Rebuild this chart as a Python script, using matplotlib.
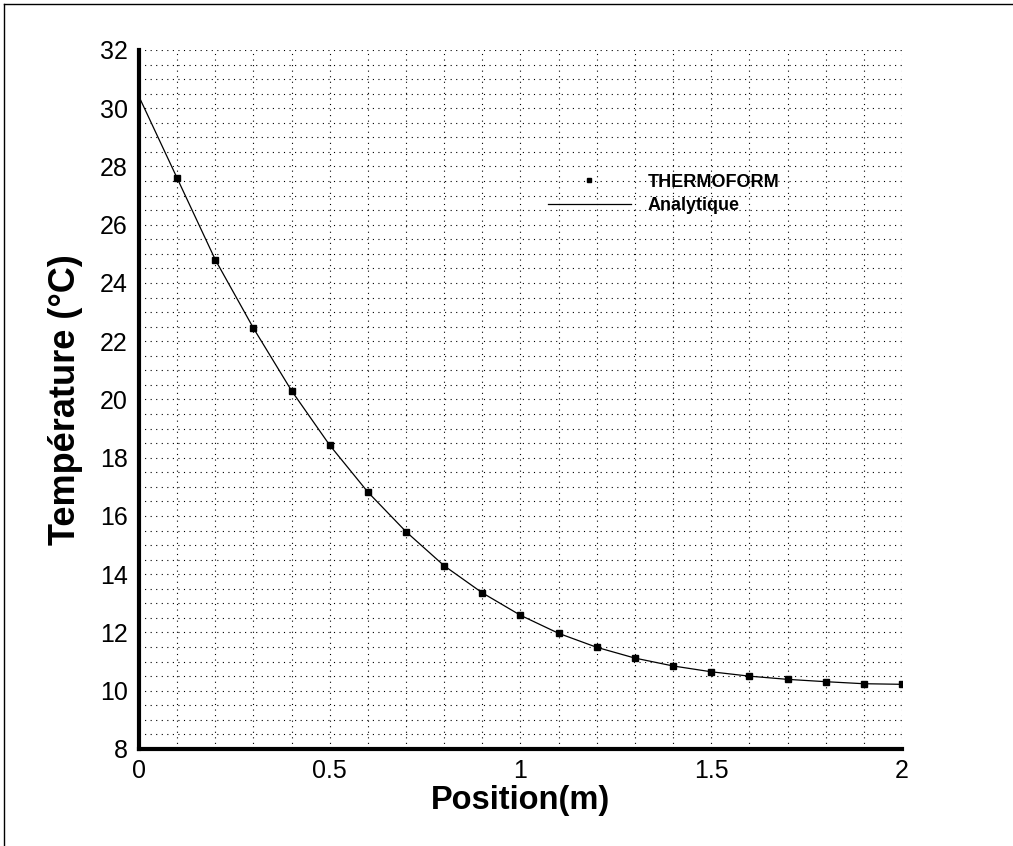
import matplotlib
matplotlib.use("Agg")
from matplotlib import pyplot as plt
from matplotlib.ticker import MultipleLocator
from matplotlib.lines import Line2D

plt.rcParams['font.family'] = ['Liberation Sans', 'DejaVu Sans']

# simulated points (THERMOFORM)
pos_sim = [0.1, 0.2, 0.3, 0.4, 0.5, 0.6, 0.7, 0.8, 0.9, 1.0,
           1.1, 1.2, 1.3, 1.4, 1.5, 1.6, 1.7, 1.8, 1.9, 2.0]
temp_sim = [27.6, 24.8, 22.45, 20.3, 18.43, 16.82, 15.46, 14.29, 13.36, 12.59,
            11.97, 11.49, 11.12, 10.85, 10.65, 10.50, 10.39, 10.31, 10.24, 10.22]

# analytic curve
pos_ana = [0.0] + pos_sim
temp_ana = [30.4] + temp_sim

fig = plt.figure(figsize=(10.13, 8.46), dpi=100)
ax = fig.add_axes([0.1372, 0.1147, 0.7532, 0.8262])

ax.plot(pos_ana, temp_ana, color='k', lw=0.9, label='Analytique', zorder=3)
ax.plot(pos_sim, temp_sim, 's', color='k', ms=5, label='THERMOFORM', zorder=4)

ax.set_xlim(0, 2)
ax.set_ylim(8, 32)
ax.xaxis.set_major_locator(MultipleLocator(0.5))
ax.xaxis.set_minor_locator(MultipleLocator(0.1))
ax.yaxis.set_major_locator(MultipleLocator(2))
ax.yaxis.set_minor_locator(MultipleLocator(0.5))
ax.set_xticks([0, 0.5, 1, 1.5, 2])
ax.set_xticklabels(['0', '0.5', '1', '1.5', '2'])

ax.grid(which='both', color='k', linestyle=(0, (1, 4)), linewidth=0.8)
ax.tick_params(which='both', length=0)
ax.tick_params(axis='y', labelsize=18, pad=8)
ax.tick_params(axis='x', labelsize=18, pad=7)

for s in ['top', 'right']:
    ax.spines[s].set_visible(False)
for s in ['left', 'bottom']:
    ax.spines[s].set_linewidth(3)

ax.set_xlabel('Position(m)', fontsize=23.5, fontweight='bold')
ax.set_ylabel('Température (°C)', fontsize=26, fontweight='bold')
ax.xaxis.set_label_coords(0.5, -0.052)
ax.yaxis.set_label_coords(-0.073, 0.5)

h, l = ax.get_legend_handles_labels()
leg = ax.legend(h[::-1], l[::-1], loc='upper left', bbox_to_anchor=(0.536, 0.823),
                frameon=False, handlelength=4.6, handletextpad=0.9,
                borderpad=0, borderaxespad=0, labelspacing=0.34,
                prop={'size': 13, 'weight': 'bold'})
leg.legend_handles[0].set_markersize(3.5)

# outer frame
fig.add_artist(Line2D([4 / 1013, 4 / 1013], [0, 1 - 4 / 846], color='k', lw=1))
fig.add_artist(Line2D([4 / 1013, 1], [1 - 4 / 846, 1 - 4 / 846], color='k', lw=1))

fig.savefig('out.png', dpi=100)
